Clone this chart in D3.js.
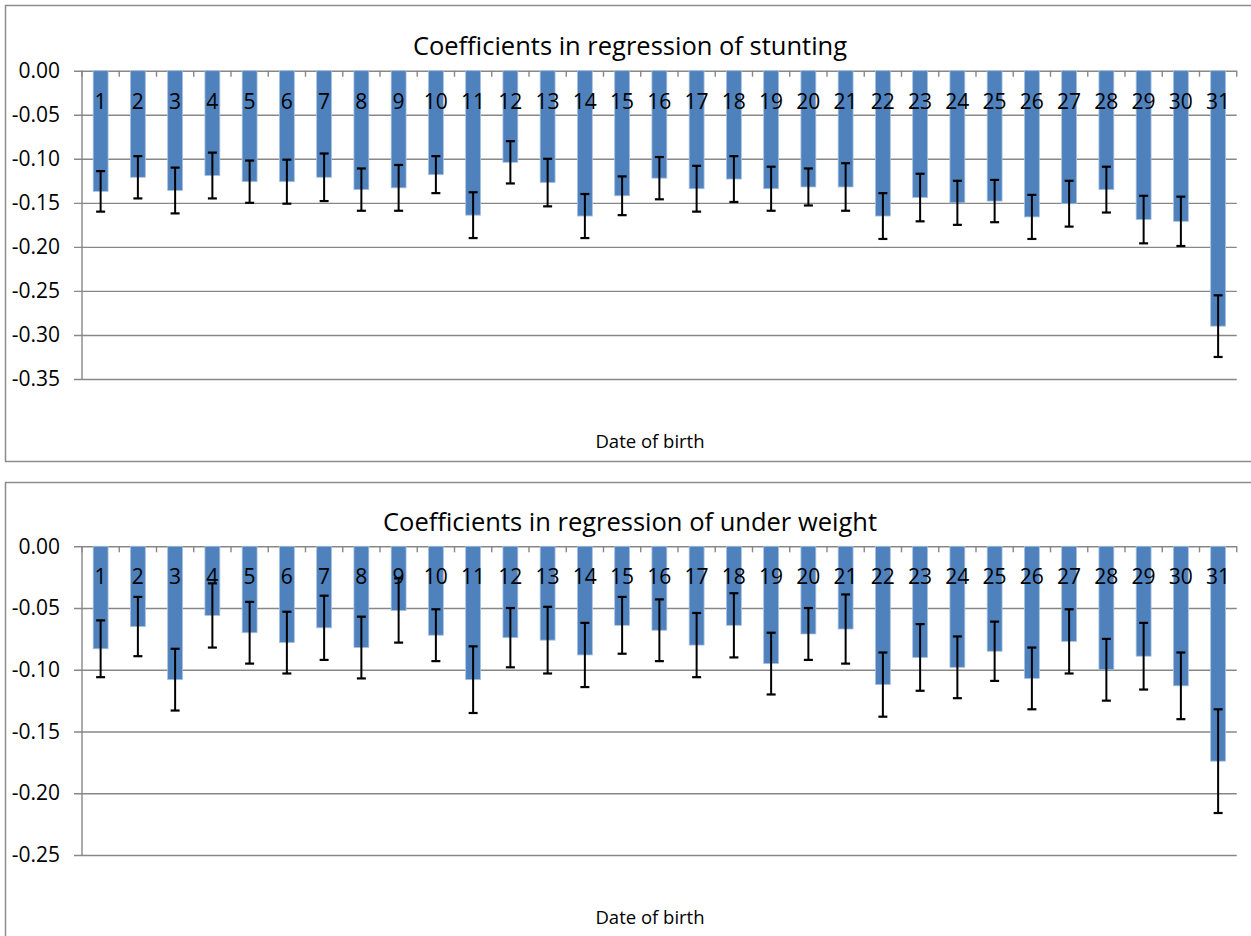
<!DOCTYPE html>
<html>
<head>
<meta charset="utf-8">
<script src="https://cdn.jsdelivr.net/npm/d3@7"></script>
<style>
  html, body { margin: 0; padding: 0; background: #fff; }
  svg { display: block; }
  text { font-family: "Open Sans", "Noto Sans", sans-serif; fill: #000; }
</style>
</head>
<body>
<svg id="chart" width="1251" height="936"></svg>
<script>
// ---- Data ----
const days = d3.range(1, 32).map(String);

const stuntingTitle = "Coefficients in regression of stunting";
const stuntingCoef = [
  -0.137, -0.121, -0.136, -0.119, -0.126, -0.126, -0.121, -0.135, -0.133, -0.118,
  -0.164, -0.104, -0.127, -0.165, -0.142, -0.122, -0.134, -0.123, -0.134, -0.132,
  -0.132, -0.165, -0.144, -0.150, -0.148, -0.166, -0.151, -0.135, -0.169, -0.171,
  -0.290
];
const stuntingErr = [
  0.023, 0.024, 0.026, 0.026, 0.024, 0.025, 0.027, 0.024, 0.026, 0.021,
  0.026, 0.024, 0.027, 0.025, 0.022, 0.024, 0.026, 0.026, 0.025, 0.021,
  0.027, 0.026, 0.027, 0.025, 0.024, 0.025, 0.026, 0.026, 0.027, 0.028,
  0.035
];
const stuntingTicks = [0, -0.05, -0.10, -0.15, -0.20, -0.25, -0.30, -0.35];

const underweightTitle = "Coefficients in regression of under weight";
const underweightCoef = [
  -0.083, -0.065, -0.108, -0.056, -0.070, -0.078, -0.066, -0.082, -0.052, -0.072,
  -0.108, -0.074, -0.076, -0.088, -0.064, -0.068, -0.080, -0.064, -0.095, -0.071,
  -0.067, -0.112, -0.090, -0.098, -0.085, -0.107, -0.077, -0.100, -0.089, -0.113,
  -0.174
];
const underweightErr = [
  0.023, 0.024, 0.025, 0.026, 0.025, 0.025, 0.026, 0.025, 0.026, 0.021,
  0.027, 0.024, 0.027, 0.026, 0.023, 0.025, 0.026, 0.026, 0.025, 0.021,
  0.028, 0.026, 0.027, 0.025, 0.024, 0.025, 0.026, 0.025, 0.027, 0.027,
  0.042
];
const underweightTicks = [0, -0.05, -0.10, -0.15, -0.20, -0.25];

const xAxisTitle = "Date of birth";

// ---- Drawing ----
const svg = d3.select("#chart");
const GRID = "#878787";
const BAR = "#4F81BD";

function drawPanel(opt) {
  const g = svg.append("g");
  // outer border
  g.append("rect")
    .attr("x", 5.5).attr("y", opt.boxTop + 0.5)
    .attr("width", 1260).attr("height", opt.boxH)
    .attr("fill", "none").attr("stroke", "#8c8c8c").attr("stroke-width", 1.5);

  const x = d3.scaleBand().domain(days).range([82, 1236.75])
    .paddingInner(0.6).paddingOuter(0.3);
  const y = d3.scaleLinear().domain([d3.min(opt.ticks), 0]).range([opt.yBottom, opt.yZero]);

  // gridlines + y axis via d3.axisLeft
  const yAxis = d3.axisLeft(y).tickValues(opt.ticks)
    .tickSize(-(1236.75 - 82)).tickSizeOuter(0).tickPadding(22)
    .tickFormat(d => d3.format(".2f")(d).replace("\u2212", "-"));
  const ya = g.append("g").attr("transform", "translate(82,0)").call(yAxis);
  ya.select(".domain").remove();
  ya.selectAll(".tick line").attr("stroke", GRID).attr("stroke-width", 1.4)
    .attr("x1", -8);
  ya.selectAll(".tick text").attr("font-size", "21px")
    .attr("font-family", "\"Open Sans\", sans-serif").attr("fill", "#000");
  ya.selectAll(".tick text").text(d => d === 0 ? "0.00" : d3.format(".2f")(d).replace("\u2212", "-"));

  // vertical axis line
  g.append("line").attr("x1", 82).attr("x2", 82)
    .attr("y1", y(0)).attr("y2", y(d3.min(opt.ticks)))
    .attr("stroke", GRID).attr("stroke-width", 1.4);

  // bars
  const data = days.map((d, i) => ({ day: d, v: opt.coef[i], e: opt.err[i] }));
  g.append("g").selectAll("rect").data(data).join("rect")
    .attr("x", d => x(d.day))
    .attr("y", y(0))
    .attr("width", x.bandwidth())
    .attr("height", d => y(d.v) - y(0))
    .attr("fill", BAR)
    .attr("stroke", "#a9c1df").attr("stroke-width", 0.8);

  // x axis ticks (category boundaries), pointing down from zero line
  const bounds = d3.range(0, days.length + 1).map(i => 82 + i * x.step());
  g.append("g").selectAll("line").data(bounds).join("line")
    .attr("x1", d => d).attr("x2", d => d)
    .attr("y1", y(0)).attr("y2", y(0) + 6)
    .attr("stroke", GRID).attr("stroke-width", 1.4);

  // category labels
  g.append("g").selectAll("text").data(data).join("text")
    .attr("x", d => x(d.day) + x.bandwidth() / 2)
    .attr("y", y(0) + 38)
    .attr("text-anchor", "middle")
    .attr("font-size", "21px")
    .text(d => d.day);

  // error bars
  const eb = g.append("g").attr("stroke", "#000").attr("stroke-width", 2);
  data.forEach(d => {
    const cx = x(d.day) + x.bandwidth() / 2;
    const yt = y(d.v + d.e), yb = y(d.v - d.e);
    eb.append("line").attr("x1", cx).attr("x2", cx).attr("y1", yt).attr("y2", yb);
    eb.append("line").attr("x1", cx - 4.5).attr("x2", cx + 4.5).attr("y1", yt).attr("y2", yt).attr("stroke-width", 2.2);
    eb.append("line").attr("x1", cx - 4.5).attr("x2", cx + 4.5).attr("y1", yb).attr("y2", yb).attr("stroke-width", 2.2);
  });

  // titles
  g.append("text").attr("x", 630).attr("y", opt.titleY)
    .attr("text-anchor", "middle").attr("font-size", "25.5px").text(opt.title);
  g.append("text").attr("x", 650).attr("y", opt.axisTitleY)
    .attr("text-anchor", "middle").attr("font-size", "18.5px").text(xAxisTitle);
}

drawPanel({
  boxTop: 5, boxH: 456, yZero: 70.7, yBottom: 379,
  ticks: stuntingTicks, coef: stuntingCoef, err: stuntingErr,
  title: stuntingTitle, titleY: 55, axisTitleY: 448
});
drawPanel({
  boxTop: 482, boxH: 480, yZero: 546.3, yBottom: 855,
  ticks: underweightTicks, coef: underweightCoef, err: underweightErr,
  title: underweightTitle, titleY: 531, axisTitleY: 924
});
</script>
</body>
</html>
